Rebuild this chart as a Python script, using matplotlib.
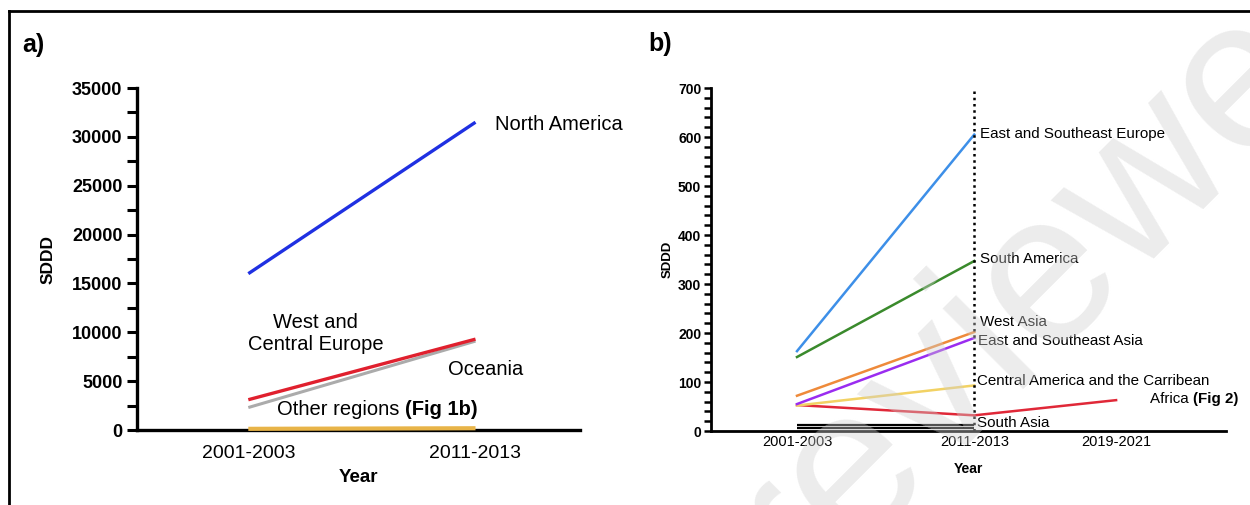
import numpy as np
import matplotlib
matplotlib.use('Agg')
import matplotlib.pyplot as plt
from matplotlib.ticker import MultipleLocator
from matplotlib.lines import Line2D

plt.rcParams['font.family'] = ['Liberation Sans', 'DejaVu Sans']

# data (x = middle year of each period)
period_years = [2002, 2012]
period_labels = ['2001-2003', '2011-2013']

north_america = [16000, 31500]
west_central_europe = [3100, 9300]
oceania = [2300, 9100]
other_regions = [120, 180]

years_b = [2002, 2012, 2020]
labels_b = ['2001-2003', '2011-2013', '2019-2021']

east_se_europe = [163, 605]
south_america = [151, 347]
west_asia = [72, 202]
east_se_asia = [55, 190]
central_america = [52, 93]
africa = [53, 32, 63]
south_asia = [12, 12]
south_asia_2 = [7, 7]

fig = plt.figure(figsize=(12.5, 5.05), dpi=100)

# ---------------- panel a ----------------
ax1 = fig.add_axes([0.1096, 0.1485, 0.3544, 0.6772])
ax1.plot(period_years, other_regions, color='#e8b448', lw=3, solid_capstyle='butt',
         clip_on=False, zorder=5)
ax1.plot(period_years, oceania, color='#ababab', lw=2.2, solid_capstyle='butt')
ax1.plot(period_years, west_central_europe, color='#e0202e', lw=2.4, solid_capstyle='butt')
ax1.plot(period_years, north_america, color='#1f30e2', lw=2.4, solid_capstyle='butt')

ax1.set_xlim(1997.1, 2016.6)
ax1.set_ylim(0, 35000)
ax1.set_xticks(period_years)
ax1.set_xticklabels(period_labels, fontsize=14)
ax1.yaxis.set_major_locator(MultipleLocator(5000))
ax1.yaxis.set_minor_locator(MultipleLocator(2500))
ax1.tick_params(axis='y', which='both', length=7, width=2.2, labelsize=13)
ax1.tick_params(axis='x', length=0, pad=11)
for lab in ax1.get_yticklabels():
    lab.set_fontweight('bold')
for s in ['top', 'right']:
    ax1.spines[s].set_visible(False)
for s in ['left', 'bottom']:
    ax1.spines[s].set_linewidth(2.4)
ax1.set_xlabel('Year', fontsize=13.5, fontweight='bold', labelpad=5)
ax1.set_ylabel('SDDD', fontsize=12.5, fontweight='bold', labelpad=12)

fs_a = 14.5
ax1.text(2012.84, 31300, 'North America', fontsize=fs_a, va='center', ha='left')
ax1.text(2004.95, 9900, 'West and\nCentral Europe', fontsize=fs_a, va='center',
         ha='center', linespacing=1.2)
ax1.text(2010.8, 6240, 'Oceania', fontsize=fs_a, va='center', ha='left')
t = ax1.text(2003.28, 1150, 'Other regions ', fontsize=fs_a, va='bottom', ha='left')
ax1.annotate('(Fig 1b)', xy=(1, 0), xycoords=t, fontsize=fs_a, fontweight='bold',
             va='bottom', ha='left')

# ---------------- panel b ----------------
ax2 = fig.add_axes([0.5688, 0.1465, 0.4120, 0.6792])
ax2.plot(years_b[:2], south_asia_2, color='black', lw=1.6, solid_capstyle='butt')
ax2.plot(years_b[:2], south_asia, color='black', lw=1.6, solid_capstyle='butt')
ax2.plot(years_b, africa, color='#e02838', lw=1.8)
ax2.plot(years_b[:2], central_america, color='#f2d264', lw=1.8)
ax2.plot(years_b[:2], east_se_asia, color='#9a2cf0', lw=1.8)
ax2.plot(years_b[:2], west_asia, color='#ee8a3a', lw=1.8)
ax2.plot(years_b[:2], south_america, color='#3a8a2c', lw=1.8)
ax2.plot(years_b[:2], east_se_europe, color='#3d8fe8', lw=1.8)
ax2.axvline(2012, ymin=0, ymax=1, color='black', ls=(0, (1, 1.5)), lw=1.8)

ax2.set_xlim(1997.15, 2026.2)
ax2.set_ylim(0, 700)
ax2.set_xticks(years_b)
ax2.set_xticklabels(labels_b, fontsize=10.5)
ax2.yaxis.set_major_locator(MultipleLocator(100))
ax2.yaxis.set_minor_locator(MultipleLocator(20))
ax2.tick_params(axis='y', which='both', length=5, width=1.8, labelsize=10, pad=2)
ax2.tick_params(axis='x', length=0, pad=3)
for lab in ax2.get_yticklabels():
    lab.set_fontweight('bold')
for s in ['top', 'right']:
    ax2.spines[s].set_visible(False)
for s in ['left', 'bottom']:
    ax2.spines[s].set_linewidth(2.0)
ax2.set_xlabel('Year', fontsize=10, fontweight='bold', labelpad=9)
ax2.set_ylabel('SDDD', fontsize=9.5, fontweight='bold', labelpad=3)

fs_b = 10.9
ax2.text(2012.3, 606, 'East and Southeast Europe', fontsize=fs_b, va='center')
ax2.text(2012.3, 351, 'South America', fontsize=fs_b, va='center')
ax2.text(2012.3, 222, 'West Asia', fontsize=fs_b, va='center')
ax2.text(2012.2, 184, 'East and Southeast Asia', fontsize=fs_b, va='center')
ax2.text(2012.15, 102, 'Central America and the Carribean', fontsize=fs_b, va='center')
ax2.text(2012.15, 16, 'South Asia', fontsize=fs_b, va='center')
t2 = ax2.text(2021.9, 52, 'Africa ', fontsize=fs_b, va='bottom', ha='left')
ax2.annotate('(Fig 2)', xy=(1, 0), xycoords=t2, fontsize=fs_b, fontweight='bold',
             va='bottom', ha='left')

# panel letters
fig.text(22 / 1250, 1 - 45 / 505, 'a)', fontsize=18, fontweight='bold', va='center')
fig.text(648 / 1250, 1 - 44 / 505, 'b)', fontsize=18, fontweight='bold', va='center')

# frame
fig.add_artist(Line2D([9 / 1250, 9 / 1250], [0, 1 - 11 / 505], color='black', lw=2))
fig.add_artist(Line2D([9 / 1250, 1.0], [1 - 11 / 505, 1 - 11 / 505], color='black', lw=2))

# watermark
fig.text(1064 / 1250, 1 - 256 / 505, 'reviewed', fontsize=155, color='#cfcfcf', alpha=0.4,
         rotation=45, ha='center', va='center', rotation_mode='anchor', zorder=10)

fig.savefig('out.png', dpi=100)
